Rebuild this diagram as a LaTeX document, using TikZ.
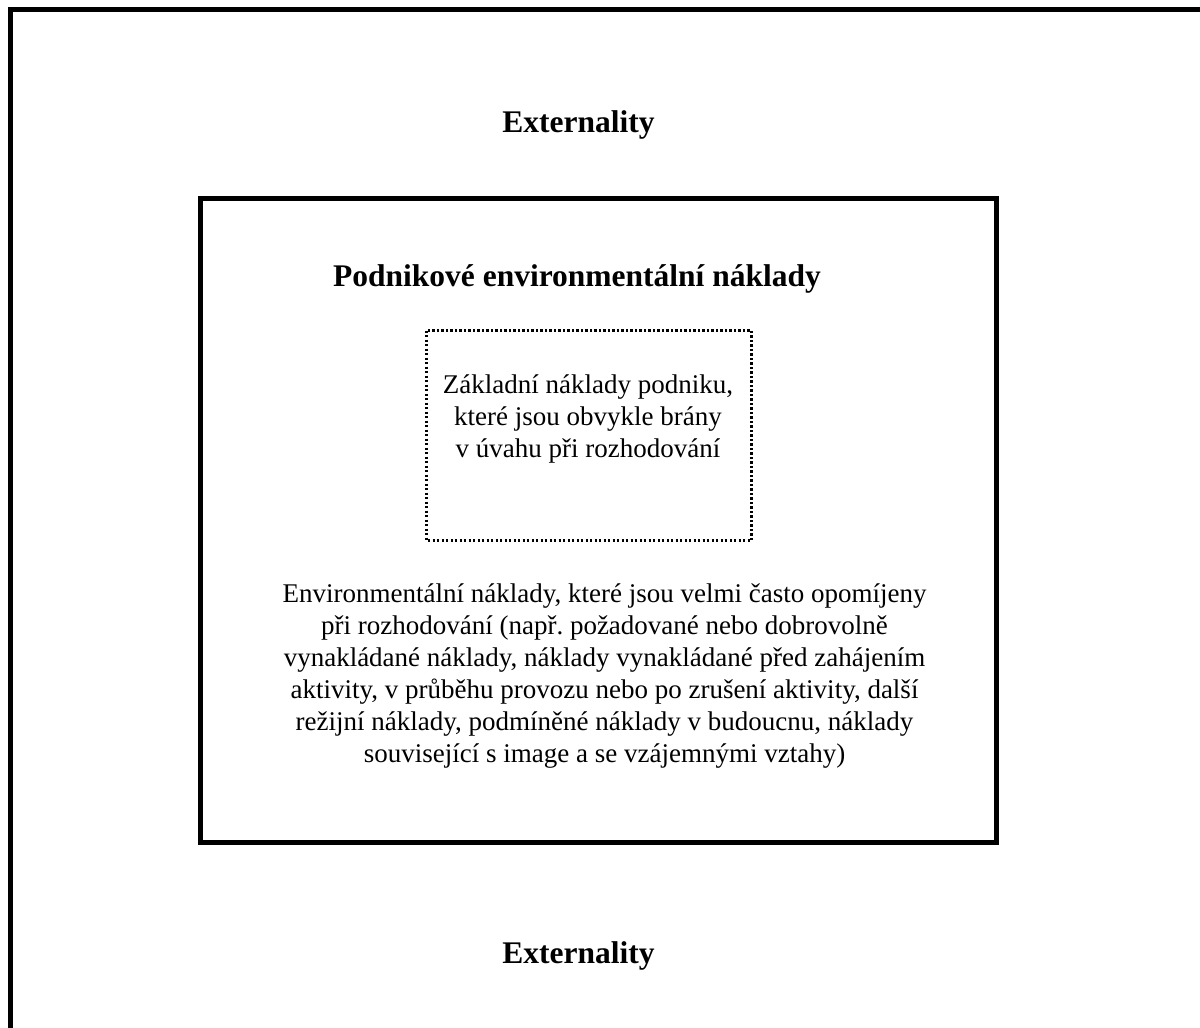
\documentclass[tikz,border=0pt]{standalone}
\usepackage{fontspec}
\setmainfont{Liberation Serif}
\frenchspacing
\begin{document}
\begin{tikzpicture}[x=0.5pt,y=-0.5pt,
  heading/.style={font=\fontsize{15.75}{18}\selectfont\bfseries, inner sep=0pt, anchor=base},
  bodytext/.style={font=\fontsize{13.5}{16}\selectfont, align=center, inner sep=0pt},
  thickframe/.style={draw=black, line width=2.45pt},
  dotbox/.style={draw=black, line width=1.25pt, dash pattern=on 1.15pt off 1.1pt}]
\useasboundingbox (0,0) rectangle (1200,1028);
\fill[white] (0,0) rectangle (1200,1028);
\begin{scope}
\clip (0,0) rectangle (1200,1028);
\draw[thickframe] (10.5,9.5) rectangle (1240,1070);
\end{scope}
\draw[thickframe] (200.5,198.5) rectangle (996.2,842.7);
\draw[dotbox] (426.5,330.5) rectangle (751.5,540.5);
\node[heading] (ext1) at (578.5,132) {Externality};
\node[heading] (title) at (577,286) {Podnikové environmentální náklady};
\node[bodytext] (core) at (588,419) {Základní náklady podniku,\\které jsou obvykle brány\\v úvahu při rozhodování};
\node[bodytext] (env) at (604.5,676) {Environmentální náklady, které jsou velmi často opomíjeny\\při rozhodování (např. požadované nebo dobrovolně\\vynakládané náklady, náklady vynakládané před zahájením\\aktivity, v průběhu provozu nebo po zrušení aktivity, další\\režijní náklady, podmíněné náklady v budoucnu, náklady\\související s image a se vzájemnými vztahy)};
\node[heading] (ext2) at (578.5,963) {Externality};
\end{tikzpicture}
\end{document}
